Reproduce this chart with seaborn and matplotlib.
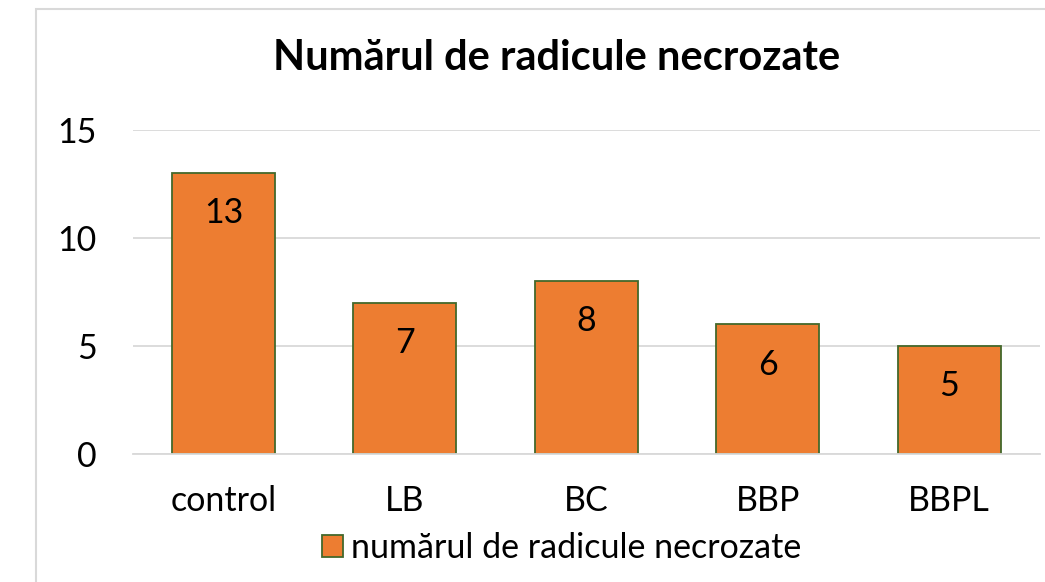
import matplotlib
matplotlib.use("Agg")
import matplotlib.pyplot as plt
import matplotlib.patches as mpatches
import seaborn as sns
import pandas as pd

categories = ["control", "LB", "BC", "BBP", "BBPL"]
values = [13, 7, 8, 6, 5]
series_name = "numărul de radicule necrozate"
title = "Numărul de radicule necrozate"
yticks = [0, 5, 10, 15]

sns.set_theme(style="white")
plt.rcParams['font.family'] = ['Lato', 'DejaVu Sans']
plt.rcParams['text.color'] = 'black'

BAR = "#ED7D31"
EDGE = "#43682B"
GRID = "#D9D9D9"
FS = 24.5

fig = plt.figure(figsize=(10.45, 5.82), dpi=100)
ax = fig.add_axes([132.75/1045, 1-454/582, (1040-132.75)/1045, (454-130)/582])

df = pd.DataFrame({"cat": categories, "val": values})
sns.barplot(data=df, x="cat", y="val", color=BAR, edgecolor=EDGE, linewidth=1.3,
            width=0.567, saturation=1, ax=ax)

ax.set_ylim(0, 15)
ax.set_yticks(yticks)
ax.set_xlim(-0.5, len(categories)-0.5)
ax.grid(axis="y", color=GRID, linewidth=1.3)
ax.set_axisbelow(True)
for s in ["top", "right", "left"]:
    ax.spines[s].set_visible(False)
ax.spines["bottom"].set_color(GRID)
ax.spines["bottom"].set_linewidth(1.3)
ax.tick_params(axis="both", length=0, labelsize=FS, colors="black")
ax.tick_params(axis="y", pad=26)
ax.tick_params(axis="x", pad=22)
ax.set_xlabel("")
ax.set_ylabel("")

for p, v in zip(ax.patches, values):
    ax.annotate(str(v), (p.get_x() + p.get_width()/2, p.get_height()),
                xytext=(0, -29), textcoords="offset points",
                ha="center", va="center", fontsize=FS, color="black")

fig.text(557/1045, 1-58/582, title, ha="center", va="center", fontsize=30,
         fontweight="bold", color="black")

handle = mpatches.Patch(facecolor=BAR, edgecolor=EDGE, linewidth=1.3, label=series_name)
leg = fig.legend(handles=[handle], loc="center", bbox_to_anchor=(562/1045, 1-548/582),
                 frameon=False, fontsize=FS, handlelength=0.6, handleheight=0.6,
                 handletextpad=0.25)
for t in leg.get_texts():
    t.set_color("black")

fig.patches.append(mpatches.Rectangle((36/1045, -0.2), 1.0, 1.2 - 9/582, transform=fig.transFigure,
                                      fill=False, edgecolor=GRID, linewidth=1.5))

fig.savefig("out.png", dpi=100)
